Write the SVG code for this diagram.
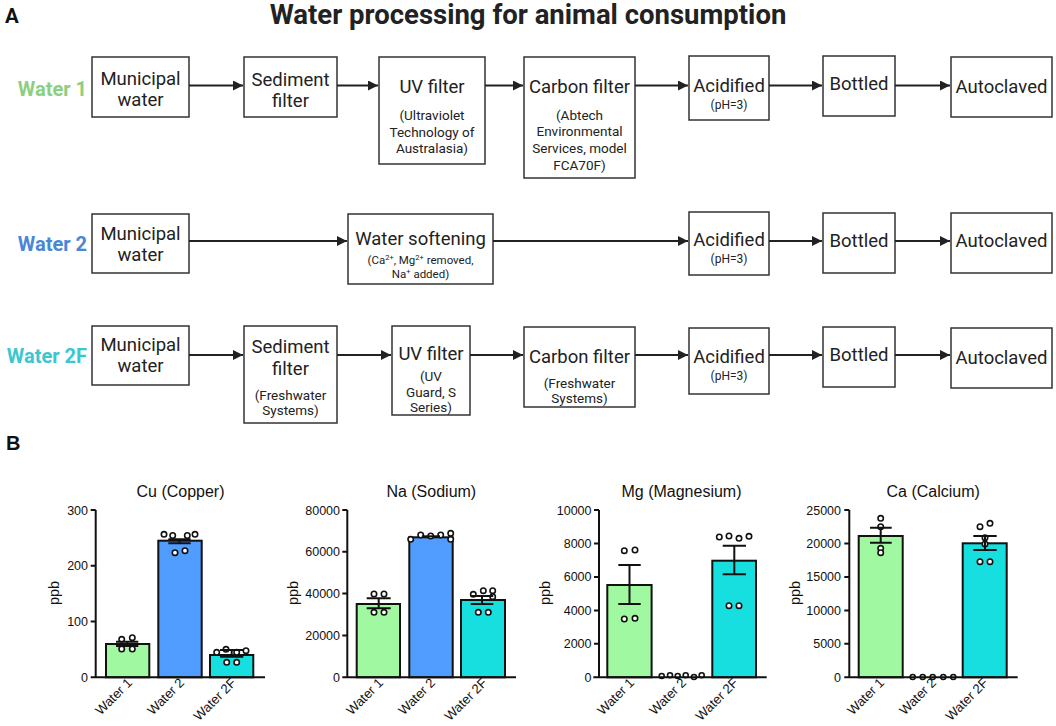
<svg xmlns="http://www.w3.org/2000/svg" width="1056" height="726" viewBox="0 0 1056 726">
<defs>
<marker id="ah" viewBox="0 0 10 10" refX="10" refY="5" markerWidth="5" markerHeight="5" orient="auto" markerUnits="strokeWidth">
<path d="M0,0 L10,5 L0,10 z" fill="#222"/>
</marker>
</defs>
<style>
.box{fill:#fff;stroke:#333;stroke-width:1.5}
.t{font-family:Roboto,"Liberation Sans",sans-serif;font-size:18.5px;fill:#222;text-anchor:middle}
.s{font-family:Roboto,"Liberation Sans",sans-serif;font-size:13.5px;fill:#222;text-anchor:middle}
.xs{font-family:Roboto,"Liberation Sans",sans-serif;font-size:11.5px;fill:#222;text-anchor:middle}
.ph{font-family:Roboto,"Liberation Sans",sans-serif;font-size:12px;fill:#222;text-anchor:middle}
.lab{font-family:Roboto,"Liberation Sans",sans-serif;font-size:20px;font-weight:bold;text-anchor:end}
.conn line{stroke:#222;stroke-width:2;marker-end:url(#ah)}
.ct{font-family:"Liberation Sans",Arial,sans-serif;font-size:16px;fill:#111;text-anchor:middle}
.tk{font-family:"Liberation Sans",Arial,sans-serif;font-size:12.5px;fill:#111;text-anchor:end}
.yl{font-family:"Liberation Sans",Arial,sans-serif;font-size:14.5px;fill:#111;text-anchor:middle}
.xl{font-family:"Liberation Sans",Arial,sans-serif;font-size:13.2px;fill:#111;text-anchor:end}
.ax{stroke:#111;stroke-width:2;fill:none}
.b1{fill:#a0f8a0;stroke:#111;stroke-width:2}
.b2{fill:#519cff;stroke:#111;stroke-width:2}
.b3{fill:#17dfdf;stroke:#111;stroke-width:2}
.pt{fill:#fff;stroke:#111;stroke-width:1.6}
.eb{stroke:#111;stroke-width:2;fill:none}
</style>
<rect width="1056" height="726" fill="#fff"/>

<text x="5" y="22.5" font-family="Roboto,'Liberation Sans',sans-serif" font-size="20.5" font-weight="bold" fill="#111">A</text>
<text x="528" y="24" font-family="Roboto,'Liberation Sans',sans-serif" font-size="27.5" font-weight="bold" fill="#222" text-anchor="middle">Water processing for animal consumption</text>

<text class="lab" x="87" y="96" fill="#8ccf7e">Water 1</text>
<text class="lab" x="87" y="251" fill="#4a86d8">Water 2</text>
<text class="lab" x="87" y="363" fill="#3cc6d0">Water 2F</text>

<!-- Row 1 -->
<g id="r1-municipal"><rect class="box" x="92" y="57" width="97" height="60"/><text class="t" x="140.5" y="84.5">Municipal</text><text class="t" x="140.5" y="106">water</text></g>
<g id="r1-sediment"><rect class="box" x="244" y="57" width="93" height="60"/><text class="t" x="290.5" y="85.5">Sediment</text><text class="t" x="290.5" y="107">filter</text></g>
<g id="r1-uv"><rect class="box" x="379" y="57" width="106" height="107"/><text class="t" x="432" y="93">UV filter</text><text class="s" x="432" y="120">(Ultraviolet</text><text class="s" x="432" y="136.5">Technology of</text><text class="s" x="432" y="153">Australasia)</text></g>
<g id="r1-carbon"><rect class="box" x="524" y="57" width="111" height="121"/><text class="t" x="579.5" y="93">Carbon filter</text><text class="s" x="579.5" y="119.5">(Abtech</text><text class="s" x="579.5" y="136">Environmental</text><text class="s" x="579.5" y="152.5">Services, model</text><text class="s" x="579.5" y="170">FCA70F)</text></g>
<g id="r1-acid"><rect class="box" x="689" y="56" width="80" height="64"/><text class="t" x="729" y="91.5">Acidified</text><text class="ph" x="729" y="108.5">(pH=3)</text></g>
<g id="r1-bottled"><rect class="box" x="823" y="56" width="72" height="60"/><text class="t" x="859" y="89.5">Bottled</text></g>
<g id="r1-auto"><rect class="box" x="951" y="57" width="101" height="60"/><text class="t" x="1001.5" y="93">Autoclaved</text></g>

<!-- Row 2 -->
<g id="r2-municipal"><rect class="box" x="92" y="214" width="97" height="59"/><text class="t" x="140.5" y="240">Municipal</text><text class="t" x="140.5" y="261">water</text></g>
<g id="r2-soft"><rect class="box" x="348" y="214" width="145" height="70"/><text class="t" x="420.5" y="245">Water softening</text><text class="xs" x="420.5" y="264">(Ca<tspan font-size="7.5" dy="-4">2+</tspan><tspan dy="4">, Mg</tspan><tspan font-size="7.5" dy="-4">2+</tspan><tspan dy="4"> removed,</tspan></text><text class="xs" x="420.5" y="277.5">Na<tspan font-size="7.5" dy="-4">+</tspan><tspan dy="4"> added)</tspan></text></g>
<g id="r2-acid"><rect class="box" x="689" y="212" width="80" height="63"/><text class="t" x="729" y="246">Acidified</text><text class="ph" x="729" y="262.5">(pH=3)</text></g>
<g id="r2-bottled"><rect class="box" x="823" y="213" width="72" height="60"/><text class="t" x="859" y="247">Bottled</text></g>
<g id="r2-auto"><rect class="box" x="951" y="213" width="101" height="60"/><text class="t" x="1001.5" y="247">Autoclaved</text></g>

<!-- Row 3 -->
<g id="r3-municipal"><rect class="box" x="92" y="326" width="97" height="59"/><text class="t" x="140.5" y="350.5">Municipal</text><text class="t" x="140.5" y="372">water</text></g>
<g id="r3-sediment"><rect class="box" x="244" y="326" width="93" height="97"/><text class="t" x="290.5" y="353">Sediment</text><text class="t" x="290.5" y="375">filter</text><text class="s" x="290.5" y="400">(Freshwater</text><text class="s" x="290.5" y="415">Systems)</text></g>
<g id="r3-uv"><rect class="box" x="392" y="326" width="78" height="89"/><text class="t" x="431" y="360">UV filter</text><text class="s" x="431" y="381">(UV</text><text class="s" x="431" y="396.5">Guard, S</text><text class="s" x="431" y="411.5">Series)</text></g>
<g id="r3-carbon"><rect class="box" x="524" y="327" width="111" height="80"/><text class="t" x="579.5" y="362.5">Carbon filter</text><text class="s" x="579.5" y="388">(Freshwater</text><text class="s" x="579.5" y="403">Systems)</text></g>
<g id="r3-acid"><rect class="box" x="689" y="328" width="80" height="66"/><text class="t" x="729" y="362.5">Acidified</text><text class="ph" x="729" y="380">(pH=3)</text></g>
<g id="r3-bottled"><rect class="box" x="823" y="327" width="72" height="60"/><text class="t" x="859" y="361">Bottled</text></g>
<g id="r3-auto"><rect class="box" x="951" y="328" width="101" height="60"/><text class="t" x="1001.5" y="364">Autoclaved</text></g>

<g id="connectors" class="conn">
<line x1="189" y1="85.5" x2="243" y2="85.5"/>
<line x1="337" y1="85.5" x2="378" y2="85.5"/>
<line x1="485" y1="85.5" x2="523" y2="85.5"/>
<line x1="635" y1="85.5" x2="688" y2="85.5"/>
<line x1="769" y1="85.5" x2="822" y2="85.5"/>
<line x1="895" y1="85.5" x2="950" y2="85.5"/>
<line x1="189" y1="241" x2="347" y2="241"/>
<line x1="493" y1="241" x2="688" y2="241"/>
<line x1="769" y1="241" x2="822" y2="241"/>
<line x1="895" y1="241" x2="950" y2="241"/>
<line x1="189" y1="355" x2="243" y2="355"/>
<line x1="337" y1="355" x2="391" y2="355"/>
<line x1="470" y1="355" x2="523" y2="355"/>
<line x1="635" y1="355" x2="688" y2="355"/>
<line x1="769" y1="355" x2="822" y2="355"/>
<line x1="895" y1="355" x2="950" y2="355"/>
</g>

<text x="6" y="450" font-family="'Liberation Sans',Arial,sans-serif" font-size="20" font-weight="bold" fill="#111">B</text>

<!-- Cu chart -->
<g id="chart-cu">
<text class="ct" x="180.5" y="496.7">Cu (Copper)</text>
<text class="yl" transform="translate(58.5,593) rotate(-90)">ppb</text>
<rect class="b1" x="106" y="644" width="43.3" height="33.3"/>
<rect class="b2" x="158.3" y="540.7" width="43.4" height="136.6"/>
<rect class="b3" x="210" y="655" width="43.3" height="22.3"/>
<circle class="pt" cx="121.7" cy="639.3" r="2.7"/><circle class="pt" cx="132.3" cy="637.7" r="2.7"/><circle class="pt" cx="121.7" cy="649" r="2.7"/><circle class="pt" cx="132.3" cy="649" r="2.7"/>
<circle class="pt" cx="164" cy="534.3" r="2.7"/><circle class="pt" cx="172.7" cy="535.5" r="2.7"/><circle class="pt" cx="187.3" cy="535.5" r="2.7"/><circle class="pt" cx="195" cy="534.3" r="2.7"/><circle class="pt" cx="175" cy="552.7" r="2.7"/><circle class="pt" cx="185" cy="550.7" r="2.7"/>
<circle class="pt" cx="216.7" cy="652.3" r="2.7"/><circle class="pt" cx="226" cy="649.3" r="2.7"/><circle class="pt" cx="236.7" cy="652.3" r="2.7"/><circle class="pt" cx="246" cy="650.7" r="2.7"/><circle class="pt" cx="226.7" cy="662.3" r="2.7"/><circle class="pt" cx="236.7" cy="662.3" r="2.7"/>
<path class="eb" d="M127.2,641.7V646M116,641.7H138.3M116,646H138.3"/>
<path class="eb" d="M179.5,539.3V543.3M168.3,539.3H190.7M168.3,543.3H190.7"/>
<path class="eb" d="M231.7,650V656.7M220,650H243.3M220,656.7H243.3"/>
<path class="ax" d="M95.7,510V677.3M90.7,677.3H265M90.7,510H95.7M90.7,565.8H95.7M90.7,621.5H95.7"/>
<text class="tk" x="88" y="514.5">300</text><text class="tk" x="88" y="570.3">200</text><text class="tk" x="88" y="626">100</text><text class="tk" x="88" y="681.8">0</text>
<text class="xl" transform="translate(133,683.5) rotate(-45)">Water 1</text>
<text class="xl" transform="translate(185,683.5) rotate(-45)">Water 2</text>
<text class="xl" transform="translate(237,683.5) rotate(-45)">Water 2F</text>
</g>

<!-- Na chart -->
<g id="chart-na">
<text class="ct" x="431.3" y="496.7">Na (Sodium)</text>
<text class="yl" transform="translate(297.5,593) rotate(-90)">ppb</text>
<rect class="b1" x="356.7" y="604" width="43.3" height="73.3"/>
<rect class="b2" x="409.3" y="537.3" width="43.4" height="140"/>
<rect class="b3" x="461" y="600" width="44" height="77.3"/>
<circle class="pt" cx="374" cy="594" r="2.7"/><circle class="pt" cx="384" cy="594" r="2.7"/><circle class="pt" cx="374" cy="612.3" r="2.7"/><circle class="pt" cx="384" cy="612.3" r="2.7"/>
<circle class="pt" cx="410.7" cy="539.3" r="2.7"/><circle class="pt" cx="420.7" cy="535" r="2.7"/><circle class="pt" cx="430.7" cy="536" r="2.7"/><circle class="pt" cx="440.7" cy="535" r="2.7"/><circle class="pt" cx="450.7" cy="533.3" r="2.7"/><circle class="pt" cx="450.7" cy="539.3" r="2.7"/>
<circle class="pt" cx="473.3" cy="594.3" r="2.7"/><circle class="pt" cx="483.3" cy="590.7" r="2.7"/><circle class="pt" cx="492.7" cy="590.7" r="2.7"/><circle class="pt" cx="492.7" cy="596.7" r="2.7"/><circle class="pt" cx="478.3" cy="612.3" r="2.7"/><circle class="pt" cx="488.3" cy="612.3" r="2.7"/>
<path class="eb" d="M378.7,598.3V608.3M366.7,598.3H390.7M366.7,608.3H390.7"/>
<path class="eb" d="M422,536.3H440"/>
<path class="eb" d="M482,596V604M470.7,596H493.3M470.7,604H493.3"/>
<path class="ax" d="M347.3,510V677.3M342.3,677.3H516M342.3,510H347.3M342.3,551.8H347.3M342.3,593.6H347.3M342.3,635.5H347.3"/>
<text class="tk" x="340" y="514.5">80000</text><text class="tk" x="340" y="556.3">60000</text><text class="tk" x="340" y="598.1">40000</text><text class="tk" x="340" y="640">20000</text><text class="tk" x="340" y="681.8">0</text>
<text class="xl" transform="translate(384,683.5) rotate(-45)">Water 1</text>
<text class="xl" transform="translate(436,683.5) rotate(-45)">Water 2</text>
<text class="xl" transform="translate(488,683.5) rotate(-45)">Water 2F</text>
</g>

<!-- Mg chart -->
<g id="chart-mg">
<text class="ct" x="681.5" y="496.7">Mg (Magnesium)</text>
<text class="yl" transform="translate(550,593) rotate(-90)">ppb</text>
<rect class="b1" x="607.3" y="585" width="44.3" height="92.3"/>
<rect class="b3" x="712.3" y="560.7" width="43.7" height="116.6"/>
<circle class="pt" cx="624.3" cy="550.7" r="2.7"/><circle class="pt" cx="635" cy="550" r="2.7"/><circle class="pt" cx="624.3" cy="619" r="2.7"/><circle class="pt" cx="635" cy="618.3" r="2.7"/>
<circle class="pt" cx="661.7" cy="676" r="2.5"/><circle class="pt" cx="670" cy="675.3" r="2.5"/><circle class="pt" cx="677.7" cy="676" r="2.5"/><circle class="pt" cx="685.7" cy="675.3" r="2.5"/><circle class="pt" cx="694" cy="677" r="2.5"/><circle class="pt" cx="701.7" cy="675.3" r="2.5"/>
<circle class="pt" cx="719.3" cy="537" r="2.7"/><circle class="pt" cx="729" cy="536" r="2.7"/><circle class="pt" cx="739" cy="538.3" r="2.7"/><circle class="pt" cx="749" cy="536.3" r="2.7"/><circle class="pt" cx="729" cy="605.7" r="2.7"/><circle class="pt" cx="739" cy="605.7" r="2.7"/>
<path class="eb" d="M629.5,565V604M618.3,565H640.7M618.3,604H640.7"/>
<path class="eb" d="M734.3,545.7V574.3M722.7,545.7H746M722.7,574.3H746"/>
<path class="ax" d="M599,510V677.3M593.3,677.3H766.7M594,510H599M594,543.5H599M594,576.9H599M594,610.4H599M594,643.8H599"/>
<text class="tk" x="591.5" y="514.5">10000</text><text class="tk" x="591.5" y="548">8000</text><text class="tk" x="591.5" y="581.4">6000</text><text class="tk" x="591.5" y="614.9">4000</text><text class="tk" x="591.5" y="648.3">2000</text><text class="tk" x="591.5" y="681.8">0</text>
<text class="xl" transform="translate(635,683.5) rotate(-45)">Water 1</text>
<text class="xl" transform="translate(687,683.5) rotate(-45)">Water 2</text>
<text class="xl" transform="translate(739,683.5) rotate(-45)">Water 2F</text>
</g>

<!-- Ca chart -->
<g id="chart-ca">
<text class="ct" x="933.2" y="496.7">Ca (Calcium)</text>
<text class="yl" transform="translate(800,593) rotate(-90)">ppb</text>
<rect class="b1" x="858.7" y="536" width="44" height="141.3"/>
<rect class="b3" x="962.7" y="543.3" width="44" height="134"/>
<circle class="pt" cx="880.7" cy="518.3" r="2.7"/><circle class="pt" cx="880.7" cy="526.7" r="2.7"/><circle class="pt" cx="880.7" cy="548.3" r="2.7"/><circle class="pt" cx="880.7" cy="552.7" r="2.7"/>
<circle class="pt" cx="912.7" cy="677" r="2.5"/><circle class="pt" cx="922.7" cy="677" r="2.5"/><circle class="pt" cx="932.7" cy="677" r="2.5"/><circle class="pt" cx="943.3" cy="677" r="2.5"/><circle class="pt" cx="953.3" cy="677" r="2.5"/>
<circle class="pt" cx="980" cy="526.7" r="2.7"/><circle class="pt" cx="990" cy="523.3" r="2.7"/><circle class="pt" cx="985" cy="537.7" r="2.7"/><circle class="pt" cx="985" cy="544" r="2.7"/><circle class="pt" cx="980" cy="561.7" r="2.7"/><circle class="pt" cx="990" cy="561.7" r="2.7"/>
<path class="eb" d="M880.7,527.7V542.7M870,527.7H891.7M870,542.7H891.7"/>
<path class="eb" d="M985,536V550M973.3,536H996.7M973.3,550H996.7"/>
<path class="ax" d="M849.3,510V677.3M844.3,677.3H1017.7M844.3,510H849.3M844.3,543.5H849.3M844.3,576.9H849.3M844.3,610.4H849.3M844.3,643.8H849.3"/>
<text class="tk" x="841" y="514.5">25000</text><text class="tk" x="841" y="548">20000</text><text class="tk" x="841" y="581.4">15000</text><text class="tk" x="841" y="614.9">10000</text><text class="tk" x="841" y="648.3">5000</text><text class="tk" x="841" y="681.8">0</text>
<text class="xl" transform="translate(885,683.5) rotate(-45)">Water 1</text>
<text class="xl" transform="translate(937,683.5) rotate(-45)">Water 2</text>
<text class="xl" transform="translate(989,683.5) rotate(-45)">Water 2F</text>
</g>
</svg>
